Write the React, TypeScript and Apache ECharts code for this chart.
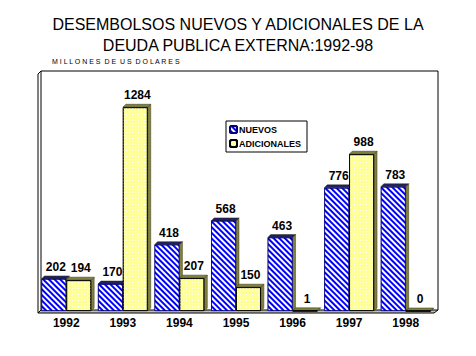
import React, { useEffect, useRef } from "react";
import * as echarts from "echarts";

const years = ["1992", "1993", "1994", "1995", "1996", "1997", "1998"];
const nuevos = [202, 170, 418, 568, 463, 776, 783];
const adicionales = [194, 1284, 207, 150, 1, 988, 0];
const seriesNames = ["NUEVOS", "ADICIONALES"];

const GRID = { left: 38, top: 73, width: 396, height: 238 };
const CAT_GAP = 0.12;
const DEPTH = 3;

export default function App() {
  const ref = useRef<HTMLDivElement>(null);
  useEffect(() => {
    if (!ref.current) return;
    const chart = echarts.init(ref.current, undefined, { renderer: "svg" });

    const extrude = (sIdx: number) => (params: any, api: any) => {
      const cat = api.value(0);
      const val = api.value(1);
      const [c, y0] = api.coord([cat, val]);
      const yb = api.coord([cat, 0])[1];
      const band = api.size([1, 0])[0];
      const bw = (band * (1 - CAT_GAP)) / 2;
      const x0 = c - bw + sIdx * bw;
      const x1 = x0 + bw;
      const d = DEPTH;
      return {
        type: "group",
        children: [
          {
            type: "polygon",
            shape: { points: [[x1, y0], [x1 + d, y0 - d], [x1 + d, yb - d], [x1, yb]] },
            style: { fill: "#808040", stroke: "#404020", lineWidth: 0.5 },
          },
          {
            type: "polygon",
            shape: { points: [[x0, y0], [x0 + d, y0 - d], [x1 + d, y0 - d], [x1, y0]] },
            style: { fill: sIdx === 0 ? "#202060" : "#808040", stroke: "#303010", lineWidth: 0.5 },
          },
        ],
      };
    };

    const labelStyle = {
      show: true,
      position: "top" as const,
      distance: 6,
      offset: [2, 0],
      fontFamily: "Arial, 'Liberation Sans', sans-serif",
      fontWeight: "bold" as const,
      fontSize: 12,
      color: "#000",
    };

    const blueDecal = {
      symbol: "rect",
      symbolSize: 1,
      dashArrayX: [1, 0],
      dashArrayY: [2, 2],
      rotation: Math.PI / 4,
      color: "#ffffff",
    };
    const yellowDecal = {
      symbol: "rect",
      symbolSize: 1,
      dashArrayX: [1, 2],
      dashArrayY: [1, 2],
      rotation: 0,
      color: "rgba(255,255,255,0.85)",
    };

    chart.setOption({
      animation: false,
      aria: { enabled: true, decal: { show: true } },
      title: [
        {
          text: "DESEMBOLSOS NUEVOS Y ADICIONALES DE LA\nDEUDA PUBLICA EXTERNA:1992-98",
          left: "center",
          top: 9,
          textStyle: {
            fontFamily: "Arial, 'Liberation Sans', sans-serif",
            fontSize: 16,
            fontWeight: "normal",
            color: "#000",
            lineHeight: 21,
            align: "center",
          },
        },
        {
          text: "M I L L O N E S  D E  U S  D O L A R E S",
          left: 47,
          top: 53,
          textStyle: {
            fontFamily: "Arial, 'Liberation Sans', sans-serif",
            fontSize: 7,
            fontWeight: "normal",
            color: "#000",
          },
        },
      ],
      legend: {
        data: seriesNames,
        orient: "vertical",
        left: 226,
        top: 121,
        itemWidth: 7,
        itemHeight: 7,
        itemGap: 5,
        padding: [4, 6, 4, 3],
        borderColor: "#000",
        borderWidth: 1,
        textStyle: {
          fontFamily: "Arial, 'Liberation Sans', sans-serif",
          fontWeight: "bold",
          fontSize: 9,
          color: "#000",
          padding: [0, 0, 0, -3],
        },
      },
      grid: { left: GRID.left, top: GRID.top, width: GRID.width, height: GRID.height },
      xAxis: {
        type: "category",
        data: years,
        axisLine: { show: false },
        axisTick: { show: false },
        axisLabel: {
          margin: 6,
          fontFamily: "Arial, 'Liberation Sans', sans-serif",
          fontWeight: "bold",
          fontSize: 12,
          color: "#000",
        },
      },
      yAxis: {
        type: "value",
        min: 0,
        max: 1500,
        interval: 500,
        show: false,
        splitLine: { show: false },
      },
      graphic: [
        {
          type: "polyline",
          shape: { points: [[41, 310], [41, 71], [438, 71], [438, 310]] },
          style: { stroke: "#000", lineWidth: 1, fill: "none" },
          silent: true,
        },
        {
          type: "polygon",
          shape: { points: [[38, 313], [41, 310], [438, 310], [434, 313]] },
          style: { fill: "#c0c0c0", stroke: "#000", lineWidth: 1 },
          silent: true,
          z: -1,
        },
        {
          type: "polyline",
          shape: { points: [[41, 71], [38, 74], [38, 313]] },
          style: { stroke: "#000", lineWidth: 1, fill: "none" },
          silent: true,
        },
      ],
      series: [
        {
          name: "NUEVOS",
          type: "bar",
          data: nuevos,
          barGap: "0%",
          barCategoryGap: "12%",
          itemStyle: { color: "#0000ff", borderColor: "#000080", borderWidth: 0.8, decal: blueDecal },
          label: labelStyle,
          z: 3,
        },
        {
          name: "ADICIONALES",
          type: "bar",
          data: adicionales,
          barGap: "0%",
          barCategoryGap: "12%",
          itemStyle: { color: "#ffff99", borderColor: "#000", borderWidth: 0.8, decal: yellowDecal },
          label: labelStyle,
          z: 3,
        },
        {
          name: "side0",
          type: "custom",
          renderItem: extrude(0),
          data: nuevos.map((v, i) => [i, v]),
          z: 2,
          silent: true,
        },
        {
          name: "side1",
          type: "custom",
          renderItem: extrude(1),
          data: adicionales.map((v, i) => [i, v]),
          z: 2,
          silent: true,
        },
      ],
    });
    return () => chart.dispose();
  }, []);
  return <div ref={ref} style={{ width: 476, height: 356, position: "absolute", left: 0, top: 0 }} />;
}
